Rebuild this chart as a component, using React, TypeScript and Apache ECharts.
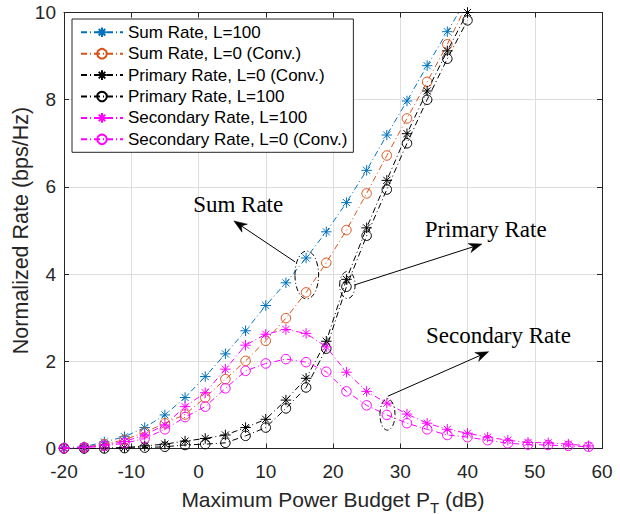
import React, { useEffect, useRef } from "react";
import * as echarts from "echarts";

// x values (dB)
const xSum = [-20, -17, -14, -11, -8, -5, -2, 1, 4, 7, 10, 13, 16, 19, 22, 25, 28, 31, 34, 37, 40];
const xSec = [-20, -17, -14, -11, -8, -5, -2, 1, 4, 7, 10, 13, 16, 19, 22, 25, 28, 31, 34, 37, 40, 43, 46, 49, 52, 55, 58];

const sumL100 = [0.02, 0.04, 0.15, 0.27, 0.48, 0.77, 1.17, 1.65, 2.17, 2.70, 3.28, 3.80, 4.37, 4.97, 5.64, 6.38, 7.19, 7.97, 8.78, 9.56, 10.34];
const sumL0 = [0.01, 0.03, 0.10, 0.20, 0.37, 0.58, 0.78, 1.17, 1.59, 2.01, 2.47, 2.99, 3.58, 4.26, 5.01, 5.85, 6.72, 7.57, 8.41, 9.27, 10.22];
const primL0 = [0, 0, 0.01, 0.02, 0.06, 0.10, 0.17, 0.23, 0.31, 0.48, 0.67, 1.11, 1.61, 2.46, 3.88, 5.06, 6.15, 7.22, 8.20, 9.12, 10.0];
const primL100 = [0, 0, 0, 0.01, 0.02, 0.04, 0.08, 0.10, 0.13, 0.29, 0.48, 0.92, 1.40, 2.29, 3.71, 4.88, 5.94, 7.00, 8.00, 8.94, 9.82];
const secL100 = [0.01, 0.03, 0.08, 0.16, 0.31, 0.54, 0.96, 1.28, 1.82, 2.37, 2.62, 2.73, 2.64, 2.33, 1.75, 1.31, 1.04, 0.79, 0.58, 0.44, 0.35, 0.26, 0.19, 0.14, 0.13, 0.10, 0.06];
const secL0 = [0.01, 0.02, 0.06, 0.12, 0.23, 0.44, 0.72, 0.96, 1.38, 1.78, 1.95, 2.05, 1.98, 1.76, 1.31, 0.99, 0.77, 0.58, 0.44, 0.31, 0.26, 0.19, 0.12, 0.09, 0.08, 0.06, 0.04];

const seriesNames = [
  "Sum Rate, L=100",
  "Sum Rate, L=0 (Conv.)",
  "Primary Rate, L=0 (Conv.)",
  "Primary Rate, L=100",
  "Secondary Rate, L=100",
  "Secondary Rate, L=0 (Conv.)",
];
const seriesColors = ["#0072BD", "#D95319", "#000000", "#000000", "#FF00FF", "#FF00FF"];
const seriesMarkers = ["star", "circle", "star", "circle", "star", "circle"];

const xTicks = { min: -20, max: 60, interval: 10 };
const yTicks = { min: 0, max: 10, interval: 2 };

// annotations: [label, textX, textY, tailX, tailY, tipX, tipY, ellipseCx, ellipseCy, halfW, halfH]
const annotations: [string, number, number, number, number, number, number, number, number, number, number][] = [
  ["Sum Rate", 5.9, 5.6, 14.36, 4.28, 5.26, 5.22, 16.1, 3.98, 1.76, 0.55],
  ["Primary Rate", 42.7, 5.02, 23.17, 3.75, 42.14, 4.69, 22.14, 3.75, 1.15, 0.31],
  ["Secondary Rate", 44.6, 2.6, 28.16, 1.2, 43.14, 2.22, 28.1, 0.78, 1.12, 0.36],
];

const asterisk = "path://M5,0L5,10M0,5L10,5M1.6,1.6L8.4,8.4M1.6,8.4L8.4,1.6";
const FONT = "Liberation Sans, Arial, Helvetica, sans-serif";
const SERIF = "Liberation Serif, Times New Roman, serif";

export default function App() {
  const ref = useRef<HTMLDivElement>(null);
  useEffect(() => {
    if (!ref.current) return;
    const chart = echarts.init(ref.current, undefined, { renderer: "svg" });
    const ys = [sumL100, sumL0, primL0, primL100, secL100, secL0];
    const series = ys.map((arr, i) => {
      const xs = i >= 4 ? xSec : xSum;
      const c = seriesColors[i];
      const star = seriesMarkers[i] === "star";
      return {
        type: "line",
        name: seriesNames[i],
        data: arr.map((v, k) => [xs[k], v]),
        symbol: star ? asterisk : "circle",
        symbolSize: star ? 10.5 : 9.5,
        showSymbol: true,
        clip: true,
        color: c,
        lineStyle: { color: c, width: 1, type: [6, 3, 1, 3] },
        itemStyle: { color: star ? c : "rgba(0,0,0,0)", borderColor: c, borderWidth: 1 },
        emphasis: { disabled: true },
        z: 2 + i,
      };
    });
    const axisCommon = {
      axisLine: { show: true, onZero: false, lineStyle: { color: "#262626", width: 1 } },
      axisTick: { show: true, inside: true, length: 5, lineStyle: { color: "#262626" } },
    };
    chart.setOption({
      animation: false,
      backgroundColor: "#fff",
      grid: { left: 64, right: 18, top: 12.5, bottom: 65.5, containLabel: false, outerBoundsMode: "none" },
      legend: {
        data: seriesNames,
        orient: "vertical",
        left: 72,
        top: 19,
        itemWidth: 42,
        itemHeight: 12,
        itemGap: 4.4,
        padding: [4.8, 6, 4.5, 8],
        backgroundColor: "#fff",
        borderColor: "#262626",
        borderWidth: 1,
        borderRadius: 0,
        selectedMode: false,
        textStyle: { fontSize: 17, fontFamily: FONT, color: "#000" },
      },
      xAxis: [
        {
          type: "value",
          ...xTicks,
          position: "bottom",
          ...axisCommon,
          splitLine: { show: true, lineStyle: { color: "#dedede", width: 1 } },
          axisLabel: { fontSize: 19, fontFamily: FONT, color: "#262626", margin: 13 },
          name: "{a|Maximum Power Budget P}{s|T}{a| (dB)}",
          nameLocation: "middle",
          nameGap: 35,
          nameMoveOverlap: false,
          nameTextStyle: {
            color: "#262626",
            rich: {
              a: { fontSize: 21, fontFamily: FONT, color: "#262626" },
              s: { fontSize: 15, fontFamily: FONT, color: "#262626", padding: [16, 0, 0, 0] },
            },
          },
        },
        {
          type: "value",
          ...xTicks,
          position: "top",
          ...axisCommon,
          axisLabel: { show: false },
          splitLine: { show: false },
        },
      ],
      yAxis: [
        {
          type: "value",
          ...yTicks,
          position: "left",
          ...axisCommon,
          splitLine: { show: true, lineStyle: { color: "#dedede", width: 1 } },
          axisLabel: { fontSize: 19, fontFamily: FONT, color: "#262626", margin: 8 },
          name: "Normalized Rate (bps/Hz)",
          nameLocation: "middle",
          nameGap: 32,
          nameMoveOverlap: false,
          nameTextStyle: { fontSize: 21.5, fontFamily: FONT, color: "#262626" },
        },
        {
          type: "value",
          ...yTicks,
          position: "right",
          ...axisCommon,
          axisLabel: { show: false },
          splitLine: { show: false },
        },
      ],
      series,
    });

    const P = (x: number, y: number) => chart.convertToPixel({ seriesIndex: 0 }, [x, y]) as number[];
    const graphics: any[] = [];
    annotations.forEach(([label, tx, ty, ax, ay, bx, by, ecx, ecy, hw, hh]) => {
      const t = P(tx, ty);
      graphics.push({
        type: "text",
        x: t[0],
        y: t[1],
        z: 100,
        style: { text: label, fontSize: 23, fontFamily: SERIF, fill: "#000", align: "center", verticalAlign: "middle" },
      });
      const a = P(ax, ay);
      const b = P(bx, by);
      const dx = b[0] - a[0];
      const dy = b[1] - a[1];
      const L = Math.hypot(dx, dy);
      const ux = dx / L;
      const uy = dy / L;
      const nx = -uy;
      const ny = ux;
      const hl = 13;
      const hw2 = 4.8;
      const base = [b[0] - ux * hl, b[1] - uy * hl];
      const notch = [b[0] - ux * hl * 0.7, b[1] - uy * hl * 0.7];
      graphics.push({
        type: "line",
        z: 100,
        shape: { x1: a[0], y1: a[1], x2: notch[0], y2: notch[1] },
        style: { stroke: "#000", lineWidth: 1 },
      });
      graphics.push({
        type: "polygon",
        z: 100,
        shape: {
          points: [
            [b[0], b[1]],
            [base[0] + nx * hw2, base[1] + ny * hw2],
            [notch[0], notch[1]],
            [base[0] - nx * hw2, base[1] - ny * hw2],
          ],
        },
        style: { fill: "#000", stroke: "#000", lineWidth: 0.5 },
      });
      const c = P(ecx, ecy);
      const e1 = P(ecx + hw, ecy + hh);
      graphics.push({
        type: "ellipse",
        z: 100,
        shape: { cx: c[0], cy: c[1], rx: Math.abs(e1[0] - c[0]), ry: Math.abs(e1[1] - c[1]) },
        style: { fill: "none", stroke: "#000", lineWidth: 1, lineDash: [5, 2.5, 1, 2.5] },
      });
    });
    chart.setOption({ graphic: graphics });
    return () => chart.dispose();
  }, []);
  return (
    <div
      ref={ref}
      style={{ position: "absolute", left: 0, top: 0, width: 620, height: 514, background: "#fff" }}
    />
  );
}
